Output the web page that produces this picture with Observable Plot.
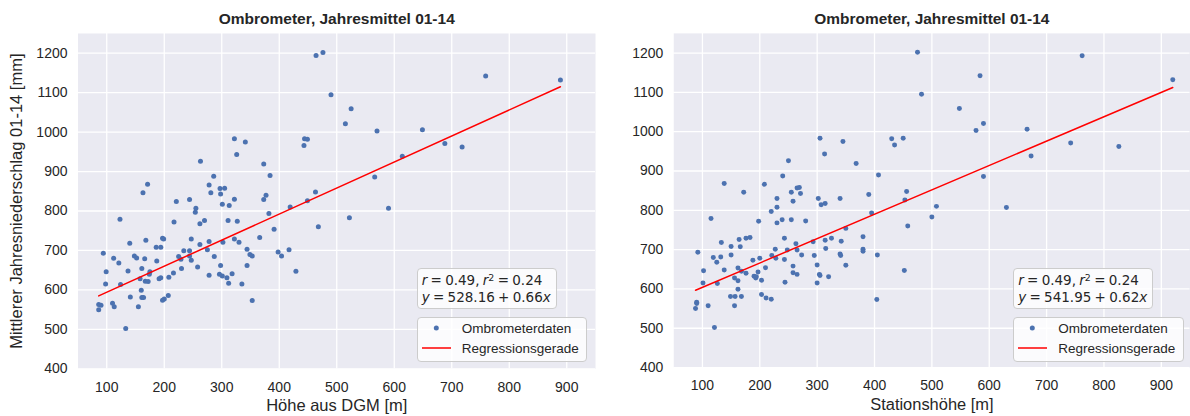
<!DOCTYPE html>
<html><head><meta charset="utf-8">
<script src="https://cdn.jsdelivr.net/npm/d3@7"></script>
<script src="https://cdn.jsdelivr.net/npm/@observablehq/plot@0.6"></script>
<style>
body{margin:0;background:#fff;}
#wrap{position:relative;width:1190px;height:416px;overflow:hidden;background:#fff;font-family:"Liberation Sans",Arial,sans-serif;color:#262626;}
.panel{position:absolute;top:0;}
.box{position:absolute;background:rgba(255,255,255,0.8);border:1px solid #cccccc;border-radius:4px;box-sizing:border-box;}
.ann{font-family:"DejaVu Sans",sans-serif;font-size:13.5px;line-height:16.7px;word-spacing:-1px;padding:2.8px 5px 0 4px;white-space:nowrap;}
.ann sup{font-size:0.7em;vertical-align:0.45em;line-height:0;}
.leg{font-size:13.5px;}
.leg .t{position:absolute;left:44px;white-space:nowrap;transform:translateY(-50%);}
</style></head><body><div id="wrap"></div>
<script>
// ---- data ----
const titleText = "Ombrometer, Jahresmittel 01-14";
const yLabelText = "Mittlerer Jahresniederschlag 01-14 [mm]";
const xLabelLeft = "Höhe aus DGM [m]";
const xLabelRight = "Stationshöhe [m]";
const xTicks = [100, 200, 300, 400, 500, 600, 700, 800, 900];
const yTicks = [400, 500, 600, 700, 800, 900, 1000, 1100, 1200];
const legendLabels = ["Ombrometerdaten", "Regressionsgerade"];

// left panel: height from DGM vs precipitation
const dgmHeight = [464,476,490,322,341,326,444,449,443,263,373,384,286,171,163,278,281,297,305,298,322,377,373,463,244,221,
 759,889,525,515,570,649,688,718,614,566,522,590,
 86,90,86,94,99,98,133,112,121,123,110,113,124,137,140,141,148,152,155,166,168,161,158,160,161,164,167,172,175,174,186,194,187,197,199,191,194,197,200,207,208,216,217,225,229,230,234,244,244,247,247,254,255,258,262,262,270,275,278,278,287,301,298,296,301,302,309,311,312,313,318,322,327,330,335,344,344,349,353,353,366,382,391,398,404,417,419,429,449,468];
const precipLeft = [1194,1202,1095,983,975,943,983,982,966,926,919,890,888,868,846,866,846,857,858,843,830,840,829,848,829,824,
 1142,1132,1059,1021,1003,1006,971,962,939,886,783,807,
 563,561,550,693,646,615,502,680,668,779,566,557,614,648,718,582,686,681,557,679,726,654,628,599,581,581,622,621,646,640,708,708,673,731,729,628,631,574,577,586,632,643,772,685,678,654,699,699,686,675,729,797,807,658,768,715,776,702,723,637,685,817,662,640,635,721,631,776,617,814,641,729,774,721,615,703,662,690,686,573,733,794,754,696,686,702,810,647,826,760];

// right panel: station height vs precipitation
const stationHeight = [475,482,305,345,313,430,450,435,250,368,407,240,138,172,208,255,265,269,271,302,390,340,456,230,
 762,584,920,548,590,577,666,742,826,673,590,
 500,508,630,
 88,90,90,92,102,101,121,110,115,119,125,126,133,132,138,150,150,149,157,156,156,162,162,162,164,166,168,168,176,176,183,188,190,193,194,197,198,200,203,203,211,210,220,220,221,227,228,230,230,239,243,243,244,248,255,258,258,258,263,265,265,273,280,293,295,300,300,304,305,307,314,314,315,320,325,342,340,341,350,350,380,380,380,395,404,405,452,453,458];
const precipRight = [1202,1095,983,975,943,982,983,966,926,919,890,887,868,846,866,846,857,858,843,830,840,830,848,830,
 1193,1142,1132,1059,1021,1003,1006,971,962,938,886,
 783,810,807,
 550,563,566,693,646,615,502,557,779,680,668,614,718,681,648,686,708,581,581,557,628,653,621,599,726,707,581,645,640,729,731,673,632,628,631,643,772,678,622,586,577,654,574,797,685,701,678,808,768,776,729,675,617,699,776,658,823,641,715,637,699,686,773,720,685,661,615,637,634,814,817,724,703,631,729,721,689,685,754,660,733,701,696,793,573,686,647,826,760];

// regression results (as printed in the chart)
const statsLeft = {r: 0.49, r2: 0.24, intercept: 528.16, slope: 0.66};
const statsRight = {r: 0.49, r2: 0.24, intercept: 541.95, slope: 0.62};

const xDomain = [50, 950];
const yDomain = [400, 1250];

// ---- drawing ----
const wrap = document.getElementById("wrap");
const fmt = d3.format(".2f");

function panel({left, width, mL, mR, xs, ys, xLabel, yLabel, stats}) {
  const pts = xs.map((x, i) => ({x, y: ys[i]}));
  const [x0, x1] = d3.extent(xs);
  const reg = [x0, x1].map(x => ({x, y: stats.intercept + stats.slope * x}));
  const marks = [
    Plot.frame({fill: "#EAEAF2", stroke: null}),
    Plot.ruleX(xTicks, {stroke: "#ffffff", strokeWidth: 1.3}),
    Plot.ruleY(yTicks, {stroke: "#ffffff", strokeWidth: 1.3}),
    Plot.dot(pts, {x: "x", y: "y", r: 2.5, fill: "#4C72B0"}),
    Plot.line(reg, {x: "x", y: "y", stroke: "#FF0000", strokeWidth: 1.5}),
    Plot.text([titleText], {text: d => d, frameAnchor: "top", dy: -14, lineAnchor: "middle", fontWeight: "bold", fontSize: 15.5}),
    Plot.text([xLabel], {text: d => d, frameAnchor: "bottom", dy: 30.5, lineAnchor: "top", fontSize: 16.5})
  ];
  if (yLabel) marks.push(Plot.text([yLabel], {text: d => d, frameAnchor: "left", dx: -68, rotate: -90, textAnchor: "middle", lineAnchor: "top", fontSize: 16.5}));
  const svg = Plot.plot({
    width, height: 416,
    marginLeft: mL, marginRight: mR, marginTop: 33, marginBottom: 47.7,
    style: {fontFamily: "'Liberation Sans', Arial, sans-serif", fontSize: "14px", color: "#262626", background: "transparent", overflow: "visible"},
    x: {domain: xDomain, ticks: xTicks, tickSize: 0, tickPadding: 13, tickFormat: d => String(d), label: null},
    y: {domain: yDomain, ticks: yTicks, tickSize: 0, tickPadding: 10.5, tickFormat: d => String(d), label: null},
    marks
  });
  const div = document.createElement("div");
  div.className = "panel";
  div.style.left = left + "px";
  div.appendChild(svg);
  wrap.appendChild(div);

  const frameRight = left + width - mR;
  const boxLeft = frameRight - 7.7 - 170.6;

  const ann = document.createElement("div");
  ann.className = "box ann";
  ann.style.left = boxLeft + "px";
  ann.style.top = "268.3px";
  ann.style.height = "41px";
  ann.innerHTML = `<i>r</i> = ${fmt(stats.r)}, <i>r</i><sup>2</sup> = ${fmt(stats.r2)}<br><i>y</i> = ${fmt(stats.intercept)} + ${fmt(stats.slope)}<i>x</i>`;
  wrap.appendChild(ann);

  const leg = document.createElement("div");
  leg.className = "box leg";
  leg.style.left = boxLeft + "px";
  leg.style.top = "317.3px";
  leg.style.width = "170.6px";
  leg.style.height = "44.4px";
  leg.innerHTML = `<svg width="40" height="44" style="position:absolute;left:0;top:0">
      <circle cx="18.3" cy="10" r="2.5" fill="#4C72B0"></circle>
      <line x1="4" x2="33" y1="30" y2="30" stroke="#FF0000" stroke-width="1.5"></line></svg>
    <div class="t" style="top:10px">${legendLabels[0]}</div>
    <div class="t" style="top:30px">${legendLabels[1]}</div>`;
  wrap.appendChild(leg);
}

panel({left: 0, width: 600, mL: 77.5, mR: 5, xs: dgmHeight, ys: precipLeft, xLabel: xLabelLeft, yLabel: yLabelText, stats: statsLeft});
panel({left: 600, width: 592, mL: 73.5, mR: 0.5, xs: stationHeight, ys: precipRight, xLabel: xLabelRight, yLabel: null, stats: statsRight});
</script>
</body></html>
